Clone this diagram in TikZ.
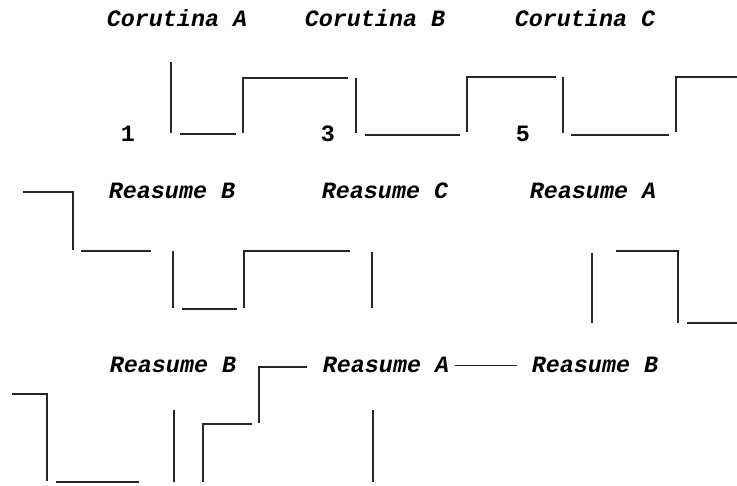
\documentclass[tikz,border=0pt]{standalone}
\usepackage{fontspec}
\newfontfamily\coroutfont{Liberation Mono}
\begin{document}
\begin{tikzpicture}[x=0.2mm,y=-0.2mm,
    trace/.style={line width=1pt, black!85, line cap=butt},
    label/.style={font=\coroutfont\bfseries\itshape\fontsize{13.3}{15}\selectfont, inner sep=0pt, anchor=base},
    num/.style={font=\coroutfont\bfseries\fontsize{13.3}{15}\selectfont, inner sep=0pt, anchor=base}]
        \useasboundingbox (0,0) rectangle (737,486);

        % Coroutine headings and step numbers
        \node[label] (corA) at (177,27) {Corutina A};
        \node[label] (corB) at (375,27) {Corutina B};
        \node[label] (corC) at (585,27) {Corutina C};
        \node[num] (n1) at (128,142) {1};
        \node[num] (n3) at (328,142) {3};
        \node[num] (n5) at (523,142) {5};

        % First trace
        \draw[trace] (171,62) -- (171,133);
        \draw[trace] (180,134) -- (236,134);
        \draw[trace] (243,133) -- (243,78) -- (348,78);
        \draw[trace] (356,78) -- (356,133);
        \draw[trace] (365,135) -- (460,135);
        \draw[trace] (467,132) -- (467,77) -- (556,77);
        \draw[trace] (563,77) -- (563,133);
        \draw[trace] (571,135) -- (669,135);
        \draw[trace] (676,132) -- (676,77) -- (737,77);

        % Second row: resumes
        \node[label] (resB1) at (172,199) {Reasume B};
        \node[label] (resC1) at (385,199) {Reasume C};
        \node[label] (resA1) at (593,199) {Reasume A};

        \draw[trace] (23,192) -- (73,192) -- (73,250);
        \draw[trace] (81,251) -- (151,251);
        \draw[trace] (173,251) -- (173,308);
        \draw[trace] (182,309) -- (237,309);
        \draw[trace] (244,308) -- (244,251) -- (350,251);
        \draw[trace] (372,252) -- (372,308);
        \draw[trace] (592,253) -- (592,323);
        \draw[trace] (616,251) -- (678,251) -- (678,323);
        \draw[trace] (687,323) -- (737,323);

        % Third row
        \node[label] (resB2) at (173,373) {Reasume B};
        \node[label] (resA2) at (386,373) {Reasume A};
        \node[label] (resB3) at (595,373) {Reasume B};

        \draw[trace] (12,394) -- (47,394) -- (47,481);
        \draw[trace] (56,482) -- (139,482);
        \draw[trace] (174,410) -- (174,482);
        \draw[trace] (203,482) -- (203,424) -- (252,424);
        \draw[trace] (259,423) -- (259,367) -- (307,367);
        \draw[trace] (373,410) -- (373,482);
        \draw[trace, shorten <=3pt, shorten >=8pt] (resA2.east) -- (resB3.west);
\end{tikzpicture}
\end{document}
